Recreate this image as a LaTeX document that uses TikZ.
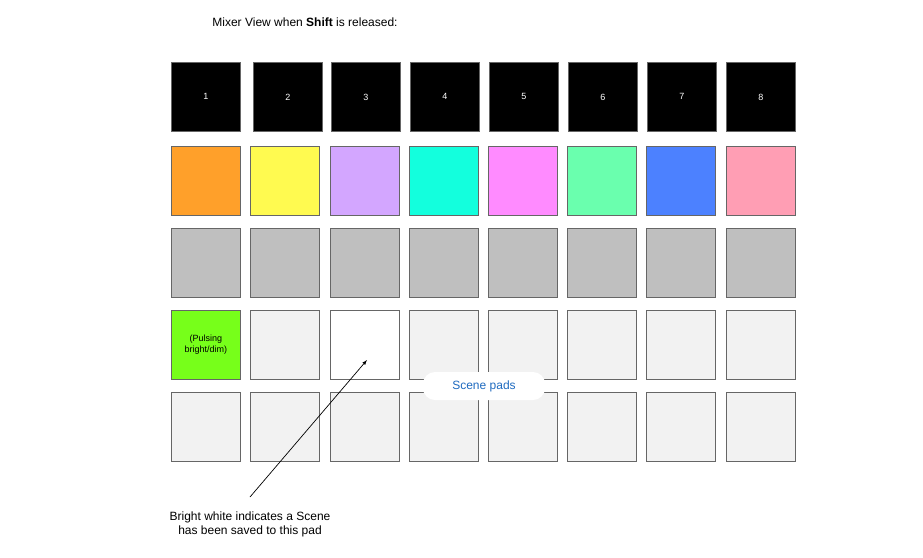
\documentclass[tikz,border=0pt]{standalone}
\usepackage{fontspec}
\setmainfont{Liberation Sans}
\begin{document}
\begin{tikzpicture}[x=1pt,y=-1pt,
 pad/.style={draw=black!60,line width=0.8pt,minimum width=69pt,minimum height=69pt,anchor=north west,inner sep=0pt},
 lbl/.style={font=\fontsize{12}{14}\selectfont}]
\useasboundingbox (0,0) rectangle (923,557);
\node[lbl] (title) at (305,22) {Mixer View when \textbf{Shift} is released:};
\foreach \i/\x in {1/171,2/253,3/331,4/410,5/489,6/568,7/647,8/726}
  \node[pad,fill=black,text=white,font=\fontsize{9}{11}\selectfont] (t\i) at (\x,62) {\i};
\foreach \i/\x/\c in {1/171/FFA02A,2/250/FFFA50,3/330/D3A6FF,4/409/13FFDD,5/488/FF8BFF,6/567/6AFFAE,7/646/4C81FF,8/726/FF9EB4}{
  \definecolor{c\i}{HTML}{\c}
  \node[pad,fill=c\i] (c\i) at (\x,146) {};
  \node[pad,fill=black!25] (g\i) at (\x,228) {};
  \node[pad,fill=black!5] (s\i) at (\x,392) {};
}
\definecolor{lime}{HTML}{77FF1A}
\node[pad,fill=lime,align=center,font=\fontsize{9}{11}\selectfont] (p1) at (171,310) {(Pulsing\\bright/dim)};
\foreach \i/\x in {2/250,4/409,5/488,6/567,7/646,8/726}
  \node[pad,fill=black!5] (p\i) at (\x,310) {};
\node[pad,fill=white] (p3) at (330,310) {};
\definecolor{sblue}{HTML}{1F6BC0}
\node[fill=white,rounded corners=12pt,minimum width=122pt,minimum height=28pt,text=sblue,lbl] (scene) at (484,386) {Scene pads};
\node[lbl,align=center] (note) at (250,524) {Bright white indicates a Scene\\has been saved to this pad};
\coordinate (tip) at (367,360);
\draw[-latex,line width=0.7pt] (250,497) -- (tip);
\end{tikzpicture}
\end{document}
